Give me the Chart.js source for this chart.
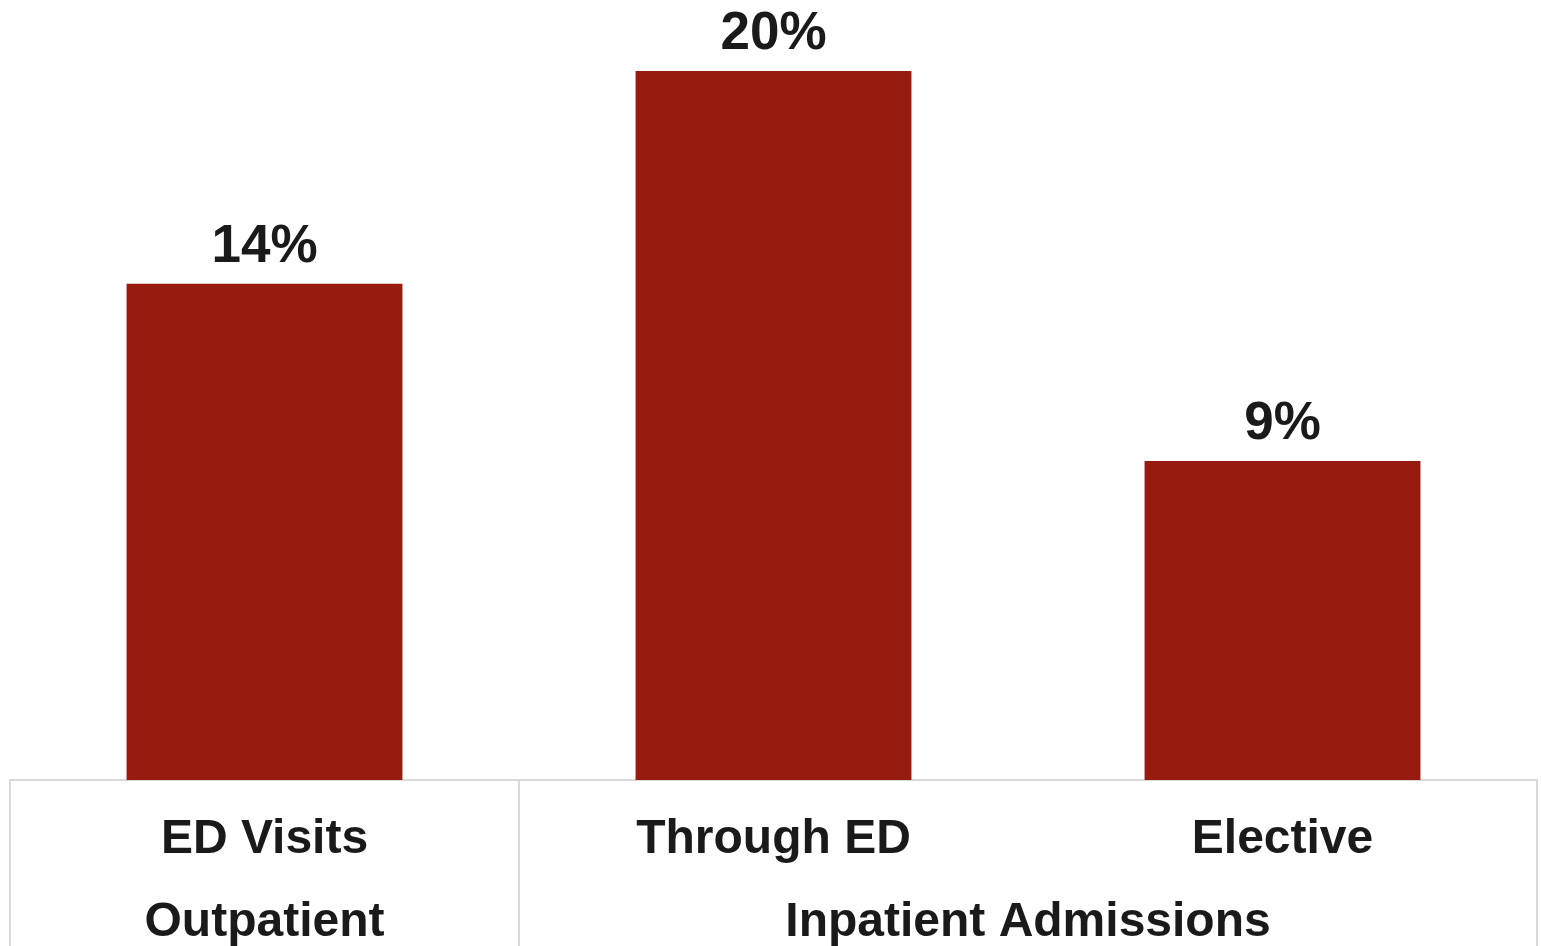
<!DOCTYPE html>
<html>
<head>
<meta charset="utf-8">
<script src="https://cdn.jsdelivr.net/npm/chart.js@4"></script>
<style>
  html, body { margin: 0; padding: 0; background: #fff; }
  #wrap { width: 1541px; height: 946px; }
</style>
</head>
<body>
<div id="wrap"><canvas id="c"></canvas></div>
<script>
const categories = ['ED Visits', 'Through ED', 'Elective'];
const values = [14, 20, 9];
const valueLabels = ['14%', '20%', '9%'];
const groupLabels = ['Outpatient', 'Inpatient Admissions'];
const groupCenters = [0, 1.5];
const groupBoundaries = [-0.5, 0.5, 2.5];

const FONT = "'Liberation Sans', Arial, sans-serif";
const TEXT = '#1a1a1a';
const LINE = '#d9d9d9';

const valueLabelPlugin = {
  id: 'valueLabels',
  afterDatasetsDraw(chart) {
    const ctx = chart.ctx;
    const meta = chart.getDatasetMeta(0);
    ctx.save();
    ctx.font = "bold 53px " + FONT;
    ctx.fillStyle = TEXT;
    ctx.textAlign = 'center';
    ctx.textBaseline = 'alphabetic';
    meta.data.forEach((bar, i) => {
      ctx.fillText(valueLabels[i], bar.x, bar.y - 22);
    });
    ctx.restore();
  }
};

const separatorPlugin = {
  id: 'separators',
  afterDraw(chart) {
    const ctx = chart.ctx;
    const xs = chart.scales.xg;
    const top = chart.chartArea.bottom;
    const bottom = chart.height;
    ctx.save();
    ctx.strokeStyle = LINE;
    ctx.lineWidth = 2;
    groupBoundaries.forEach(v => {
      const px = Math.round(xs.getPixelForValue(v));
      ctx.beginPath();
      ctx.moveTo(px, top);
      ctx.lineTo(px, bottom);
      ctx.stroke();
    });
    ctx.restore();
  }
};

new Chart(document.getElementById('c'), {
  type: 'bar',
  data: {
    labels: categories,
    datasets: [{
      data: values,
      backgroundColor: '#971B0E',
      borderWidth: 0,
      categoryPercentage: 1,
      barPercentage: 0.542
    }]
  },
  options: {
    responsive: true,
    maintainAspectRatio: false,
    animation: false,
    layout: { padding: { left: 10, right: 4, top: 0, bottom: 0 } },
    plugins: {
      legend: { display: false },
      tooltip: { enabled: false },
      title: { display: false }
    },
    scales: {
      y: {
        display: false,
        min: 0,
        max: 22
      },
      x: {
        position: 'bottom',
        grid: { display: false, drawTicks: false },
        border: { display: true, color: LINE, width: 2 },
        ticks: {
          color: TEXT,
          padding: 31.2,
          maxRotation: 0,
          autoSkip: false,
          font: { family: FONT, size: 48, weight: 'bold', lineHeight: 1.2 }
        }
      },
      xg: {
        type: 'linear',
        position: 'bottom',
        min: -0.5,
        max: 2.5,
        offset: false,
        bounds: 'data',
        grace: 0,
        grid: { display: false, drawTicks: false, offset: false },
        border: { display: false },
        afterBuildTicks(scale) {
          scale.ticks = groupCenters.map(v => ({ value: v }));
        },
        ticks: {
          color: TEXT,
          padding: 0,
          maxRotation: 0,
          autoSkip: false,
          font: { family: FONT, size: 48, weight: 'bold', lineHeight: 0.958 },
          callback(value) {
            const i = groupCenters.indexOf(value);
            return i >= 0 ? groupLabels[i] : '';
          }
        }
      }
    }
  },
  plugins: [valueLabelPlugin, separatorPlugin]
});
</script>
</body>
</html>
